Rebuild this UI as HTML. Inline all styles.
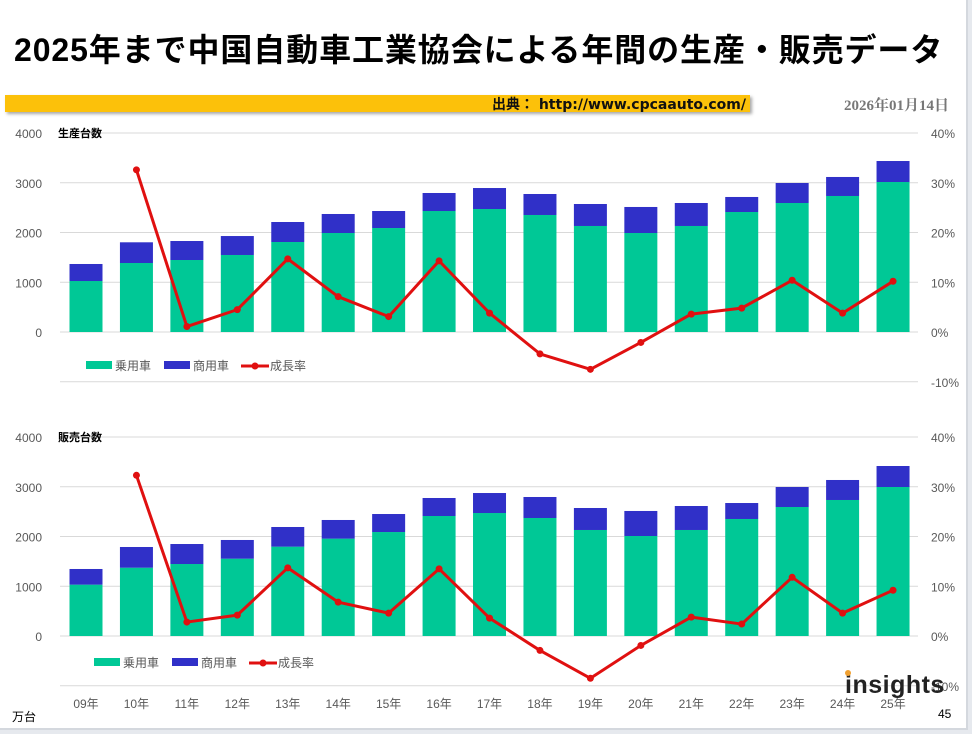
<!DOCTYPE html>
<html><head><meta charset="utf-8">
<style>
body{margin:0;width:972px;height:734px;background:#e6e9ee;font-family:"Liberation Sans","Noto Sans CJK JP",sans-serif;overflow:hidden}
#page{position:absolute;left:0;top:0;width:966px;height:728px;background:#fff;border-right:2px solid #d4d8de;border-bottom:2px solid #d4d8de}
#title{position:absolute;left:14px;top:25px;font-size:32px;font-weight:bold;color:#000;letter-spacing:0.9px;white-space:nowrap}
#band{position:absolute;left:5px;top:95px;width:745px;height:17px;background:#fcc10a;box-shadow:2px 2px 3px rgba(0,0,0,0.35)}
#src{position:absolute;right:4px;top:-1px;font-size:14px;font-weight:bold;color:#111;white-space:nowrap;font-family:"DejaVu Sans","Noto Sans CJK JP",sans-serif}
#date{position:absolute;left:844px;top:94px;font-size:15px;font-weight:bold;color:#777;font-family:"Liberation Serif","Noto Serif CJK SC",serif}
svg text{font-family:"Liberation Sans","Noto Sans CJK JP",sans-serif}
</style></head><body>
<div id="page">
<div id="title">2025年まで中国自動車工業協会による年間の生産・販売データ</div>
<div id="band"><span id="src">出典： http://www.cpcaauto.com/</span></div>
<div id="date">2026年01月14日</div>
<svg id="chart" width="972" height="734" style="position:absolute;left:0;top:0"></svg>
</div>
<script>
const categories=["09年","10年","11年","12年","13年","14年","15年","16年","17年","18年","19年","20年","21年","22年","23年","24年","25年"];
const prodPassenger=[1025,1387,1447,1548,1809,1990,2090,2432,2472,2352,2131,1990,2131,2412,2593,2734,3015];
const prodTotal=[1367,1803,1829,1929,2211,2372,2432,2794,2894,2774,2573,2513,2593,2714,2995,3116,3437];
const prodGrowth=[null,32.6,1.1,4.5,14.7,7.1,3.1,14.3,3.8,-4.4,-7.5,-2.1,3.6,4.8,10.4,3.8,10.2];
const salesPassenger=[1032,1373,1447,1554,1796,1957,2090,2412,2472,2372,2131,2010,2131,2352,2593,2734,2995];
const salesTotal=[1347,1789,1849,1930,2191,2332,2452,2774,2874,2794,2573,2513,2613,2673,2995,3136,3417];
const salesGrowth=[null,32.3,2.8,4.2,13.7,6.8,4.6,13.5,3.6,-2.9,-8.5,-1.9,3.8,2.4,11.8,4.6,9.2];
const leftTicks=[0,1000,2000,3000,4000];
const rightTicks=[-10,0,10,20,30,40];

const svg=document.getElementById('chart');
const NS='http://www.w3.org/2000/svg';
function mk(tag,attrs,parent){const e=document.createElementNS(NS,tag);for(const k in attrs)e.setAttribute(k,attrs[k]);(parent||svg).appendChild(e);return e;}
const x=i=>86+i*50.44;
const BW=33;

function drawChart(key,y0,title,passenger,total,growth,legY,showX){
  const g=mk('g',{});
  
  
  const yL=v=>y0-v*0.04975;
  const yR=p=>y0-p*4.975;
  rightTicks.forEach(t=>{
    const gl=mk('line',{x1:60,x2:918,y1:yR(t),y2:yR(t),stroke:'#d9d9d9','stroke-width':1},g);
    
    
    const rt=mk('text',{x:931,y:yR(t)+5,'font-size':12,fill:'#595959'},g);
    rt.textContent=t+'%';
    
    
  });
  leftTicks.forEach(t=>{
    const lt=mk('text',{x:42,y:yL(t)+5,'font-size':12,fill:'#595959','text-anchor':'end'},g);
    lt.textContent=t;
    
    
  });
  const tt=mk('text',{x:58,y:yL(4000)+4,'font-size':11,'font-weight':'bold',fill:'#000'},g);
  tt.textContent=title;
  
  
  categories.forEach((c,i)=>{
    const b1=mk('rect',{x:x(i)-BW/2,y:yL(passenger[i]),width:BW,height:y0-yL(passenger[i]),fill:'#00c896'},g);
    
    
    const b2=mk('rect',{x:x(i)-BW/2,y:yL(total[i]),width:BW,height:yL(passenger[i])-yL(total[i]),fill:'#3030c8'},g);
    
    
    if(showX){
      const xl=mk('text',{x:x(i),y:708,'font-size':12,fill:'#595959','text-anchor':'middle'},g);
      xl.textContent=c;
      
      
    }
  });
  const pts=[];
  growth.forEach((v,i)=>{if(v!==null)pts.push(x(i)+','+yR(v));});
  const pl=mk('polyline',{points:pts.join(' '),fill:'none',stroke:'#e01010','stroke-width':3,'stroke-linejoin':'round'},g);
  
  
  growth.forEach((v,i)=>{if(v===null)return;
    const c=mk('circle',{cx:x(i),cy:yR(v),r:3.5,fill:'#e01010'},g);
    
    
  });
  const lx=showX?94:86;
  const lg=mk('g',{},g);
  
  
  mk('rect',{x:lx,y:legY-4,width:26,height:8,fill:'#00c896'},lg);
  const t1=mk('text',{x:lx+29,y:legY+5,'font-size':12,fill:'#595959'},lg);t1.textContent='乗用車';
  
  
  mk('rect',{x:lx+78,y:legY-4,width:26,height:8,fill:'#3030c8'},lg);
  const t2=mk('text',{x:lx+107,y:legY+5,'font-size':12,fill:'#595959'},lg);t2.textContent='商用車';
  
  
  mk('line',{x1:lx+155,x2:lx+183,y1:legY+1,y2:legY+1,stroke:'#e01010','stroke-width':3},lg);
  mk('circle',{cx:lx+169,cy:legY+1,r:3.5,fill:'#e01010'},lg);
  const t3=mk('text',{x:lx+184,y:legY+5,'font-size':12,fill:'#595959'},lg);t3.textContent='成長率';
  
  
}
drawChart('production',332,'生産台数',prodPassenger,prodTotal,prodGrowth,365,false);
drawChart('sales',636,'販売台数',salesPassenger,salesTotal,salesGrowth,662,true);

const u=mk('text',{x:12,y:721,'font-size':12,fill:'#000'});u.textContent='万台';


const pn=mk('text',{x:938,y:718,'font-size':12,fill:'#000'});pn.textContent='45';


const lo=mk('text',{x:845,y:693,'font-size':25,'font-weight':'bold',fill:'#222','letter-spacing':'0.5'});lo.textContent='insights';


mk('circle',{cx:848,cy:673,r:3,fill:'#f0a030'});
</script>
</body></html>
